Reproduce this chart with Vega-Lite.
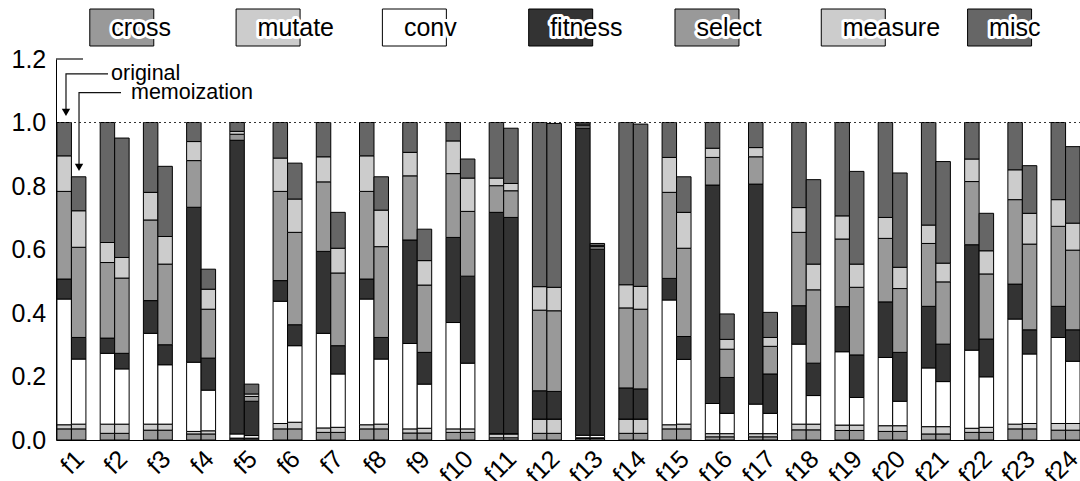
{
  "$schema": "https://vega.github.io/schema/vega-lite/v6.json",
  "padding": {"left": 10, "top": 8, "right": 0, "bottom": 0},
  "background": "white",
  "spacing": 0,
  "config": {
    "view": {"stroke": null},
    "axis": {"labelFont": "Liberation Sans", "labelColor": "#000", "domainColor": "#000", "grid": false, "ticks": false},
    "axisX": {"labelAngle": -45, "labelFontSize": 25}
  },
  "datasets": {
    "bars": [
      {"f":"f1","v":"original","cross":0.035,"mutate":0.013,"conv":0.396,"fitness":0.063,"select":0.276,"measure":0.112,"misc":0.105},
      {"f":"f1","v":"memoization","cross":0.035,"mutate":0.015,"conv":0.205,"fitness":0.068,"select":0.284,"measure":0.115,"misc":0.107},
      {"f":"f2","v":"original","cross":0.021,"mutate":0.029,"conv":0.223,"fitness":0.048,"select":0.238,"measure":0.063,"misc":0.378},
      {"f":"f2","v":"memoization","cross":0.021,"mutate":0.029,"conv":0.174,"fitness":0.049,"select":0.237,"measure":0.065,"misc":0.376},
      {"f":"f3","v":"original","cross":0.031,"mutate":0.019,"conv":0.286,"fitness":0.103,"select":0.254,"measure":0.087,"misc":0.220},
      {"f":"f3","v":"memoization","cross":0.031,"mutate":0.019,"conv":0.187,"fitness":0.063,"select":0.254,"measure":0.087,"misc":0.221},
      {"f":"f4","v":"original","cross":0.019,"mutate":0.008,"conv":0.218,"fitness":0.488,"select":0.147,"measure":0.060,"misc":0.060},
      {"f":"f4","v":"memoization","cross":0.019,"mutate":0.010,"conv":0.128,"fitness":0.101,"select":0.154,"measure":0.063,"misc":0.063},
      {"f":"f5","v":"original","cross":0.004,"mutate":0.002,"conv":0.013,"fitness":0.925,"select":0.019,"measure":0.009,"misc":0.028},
      {"f":"f5","v":"memoization","cross":0.004,"mutate":0.002,"conv":0.008,"fitness":0.108,"select":0.015,"measure":0.008,"misc":0.031},
      {"f":"f6","v":"original","cross":0.035,"mutate":0.017,"conv":0.385,"fitness":0.065,"select":0.281,"measure":0.105,"misc":0.112},
      {"f":"f6","v":"memoization","cross":0.035,"mutate":0.021,"conv":0.241,"fitness":0.066,"select":0.291,"measure":0.105,"misc":0.113},
      {"f":"f7","v":"original","cross":0.024,"mutate":0.014,"conv":0.298,"fitness":0.258,"select":0.219,"measure":0.079,"misc":0.108},
      {"f":"f7","v":"memoization","cross":0.024,"mutate":0.016,"conv":0.168,"fitness":0.089,"select":0.229,"measure":0.078,"misc":0.113},
      {"f":"f8","v":"original","cross":0.035,"mutate":0.013,"conv":0.396,"fitness":0.063,"select":0.276,"measure":0.112,"misc":0.105},
      {"f":"f8","v":"memoization","cross":0.035,"mutate":0.015,"conv":0.205,"fitness":0.068,"select":0.286,"measure":0.115,"misc":0.105},
      {"f":"f9","v":"original","cross":0.022,"mutate":0.013,"conv":0.269,"fitness":0.326,"select":0.202,"measure":0.074,"misc":0.094},
      {"f":"f9","v":"memoization","cross":0.022,"mutate":0.015,"conv":0.139,"fitness":0.100,"select":0.212,"measure":0.077,"misc":0.099},
      {"f":"f10","v":"original","cross":0.024,"mutate":0.011,"conv":0.335,"fitness":0.268,"select":0.201,"measure":0.103,"misc":0.058},
      {"f":"f10","v":"memoization","cross":0.024,"mutate":0.011,"conv":0.207,"fitness":0.274,"select":0.204,"measure":0.105,"misc":0.060},
      {"f":"f11","v":"original","cross":0.007,"mutate":0.012,"conv":0.001,"fitness":0.697,"select":0.084,"measure":0.024,"misc":0.175},
      {"f":"f11","v":"memoization","cross":0.007,"mutate":0.012,"conv":0.001,"fitness":0.681,"select":0.084,"measure":0.023,"misc":0.174},
      {"f":"f12","v":"original","cross":0.021,"mutate":0.045,"conv":0,"fitness":0.089,"select":0.254,"measure":0.074,"misc":0.517},
      {"f":"f12","v":"memoization","cross":0.021,"mutate":0.045,"conv":0,"fitness":0.087,"select":0.254,"measure":0.074,"misc":0.516},
      {"f":"f13","v":"original","cross":0.005,"mutate":0.002,"conv":0.008,"fitness":0.967,"select":0.008,"measure":0.005,"misc":0.005},
      {"f":"f13","v":"memoization","cross":0.005,"mutate":0.002,"conv":0.008,"fitness":0.586,"select":0.008,"measure":0.003,"misc":0.007},
      {"f":"f14","v":"original","cross":0.021,"mutate":0.045,"conv":0,"fitness":0.098,"select":0.252,"measure":0.073,"misc":0.511},
      {"f":"f14","v":"memoization","cross":0.021,"mutate":0.045,"conv":0,"fitness":0.095,"select":0.251,"measure":0.072,"misc":0.511},
      {"f":"f15","v":"original","cross":0.035,"mutate":0.013,"conv":0.393,"fitness":0.068,"select":0.271,"measure":0.110,"misc":0.110},
      {"f":"f15","v":"memoization","cross":0.035,"mutate":0.015,"conv":0.204,"fitness":0.072,"select":0.278,"measure":0.113,"misc":0.112},
      {"f":"f16","v":"original","cross":0.010,"mutate":0.010,"conv":0.095,"fitness":0.688,"select":0.087,"measure":0.029,"misc":0.081},
      {"f":"f16","v":"memoization","cross":0.010,"mutate":0.010,"conv":0.064,"fitness":0.113,"select":0.089,"measure":0.031,"misc":0.080},
      {"f":"f17","v":"original","cross":0.010,"mutate":0.010,"conv":0.093,"fitness":0.693,"select":0.086,"measure":0.029,"misc":0.079},
      {"f":"f17","v":"memoization","cross":0.010,"mutate":0.010,"conv":0.064,"fitness":0.124,"select":0.087,"measure":0.028,"misc":0.079},
      {"f":"f18","v":"original","cross":0.032,"mutate":0.018,"conv":0.252,"fitness":0.121,"select":0.231,"measure":0.078,"misc":0.268},
      {"f":"f18","v":"memoization","cross":0.032,"mutate":0.018,"conv":0.090,"fitness":0.102,"select":0.231,"measure":0.081,"misc":0.266},
      {"f":"f19","v":"original","cross":0.030,"mutate":0.017,"conv":0.231,"fitness":0.142,"select":0.213,"measure":0.073,"misc":0.294},
      {"f":"f19","v":"memoization","cross":0.030,"mutate":0.017,"conv":0.087,"fitness":0.134,"select":0.213,"measure":0.073,"misc":0.292},
      {"f":"f20","v":"original","cross":0.027,"mutate":0.018,"conv":0.215,"fitness":0.175,"select":0.200,"measure":0.066,"misc":0.299},
      {"f":"f20","v":"memoization","cross":0.027,"mutate":0.018,"conv":0.077,"fitness":0.154,"select":0.201,"measure":0.067,"misc":0.297},
      {"f":"f21","v":"original","cross":0.019,"mutate":0.023,"conv":0.185,"fitness":0.194,"select":0.198,"measure":0.058,"misc":0.323},
      {"f":"f21","v":"memoization","cross":0.019,"mutate":0.023,"conv":0.142,"fitness":0.118,"select":0.196,"measure":0.059,"misc":0.320},
      {"f":"f22","v":"original","cross":0.024,"mutate":0.013,"conv":0.246,"fitness":0.332,"select":0.199,"measure":0.071,"misc":0.115},
      {"f":"f22","v":"memoization","cross":0.024,"mutate":0.016,"conv":0.159,"fitness":0.119,"select":0.205,"measure":0.073,"misc":0.118},
      {"f":"f23","v":"original","cross":0.035,"mutate":0.015,"conv":0.331,"fitness":0.110,"select":0.266,"measure":0.094,"misc":0.149},
      {"f":"f23","v":"memoization","cross":0.035,"mutate":0.017,"conv":0.219,"fitness":0.076,"select":0.270,"measure":0.097,"misc":0.150},
      {"f":"f24","v":"original","cross":0.031,"mutate":0.021,"conv":0.271,"fitness":0.098,"select":0.252,"measure":0.084,"misc":0.243},
      {"f":"f24","v":"memoization","cross":0.031,"mutate":0.021,"conv":0.196,"fitness":0.099,"select":0.251,"measure":0.085,"misc":0.241}
    ],
    "lines": [
      {"g":"tick","i":0,"ax":0,"ay":1.2},
      {"g":"tick","i":1,"ax":0.632,"ay":1.2},
      {"g":"orig","i":0,"ax":1.218,"ay":1.153},
      {"g":"orig","i":1,"ax":0.234,"ay":1.153},
      {"g":"orig","i":2,"ax":0.234,"ay":1.032},
      {"g":"memo","i":0,"ax":1.522,"ay":1.094},
      {"g":"memo","i":1,"ax":0.539,"ay":1.094},
      {"g":"memo","i":2,"ax":0.539,"ay":0.859}
    ],
    "heads": [
      {"ax":0.234,"ay":1.032},
      {"ax":0.539,"ay":0.859}
    ],
    "notes": [
      {"t":"original","ax":1.288,"ay":1.153},
      {"t":"memoization","ax":1.756,"ay":1.094}
    ],
    "keys": [
      {"c":"cross"},{"c":"mutate"},{"c":"conv"},{"c":"fitness"},{"c":"select"},{"c":"measure"},{"c":"misc"}
    ]
  },
  "vconcat": [
    {
      "width": 1025,
      "height": 37,
      "data": {"name": "keys"},
      "encoding": {
        "x": {"field": "c", "type": "nominal", "sort": null,
              "scale": {"paddingInner": 0.5626, "paddingOuter": 0.2844, "align": 0.406},
              "axis": null}
      },
      "layer": [
        {
          "mark": {"type": "bar", "stroke": "#000", "strokeWidth": 1},
          "encoding": {
            "color": {"field": "c", "type": "nominal",
                      "scale": {"domain": ["cross","mutate","conv","fitness","select","measure","misc"],
                                "range": ["#999999","#cccccc","#ffffff","#333333","#999999","#cccccc","#666666"]},
                      "legend": null}
          }
        },
        {
          "mark": {"type": "text", "align": "left", "baseline": "middle", "dx": -10.5, "fontSize": 25, "font": "Liberation Sans",
                   "fill": "#fff", "stroke": "#fff", "strokeWidth": 6, "strokeJoin": "round"},
          "encoding": {"text": {"field": "c"}}
        },
        {
          "mark": {"type": "text", "align": "left", "baseline": "middle", "dx": -10.5, "fontSize": 25, "font": "Liberation Sans", "fill": "#000"},
          "encoding": {"text": {"field": "c"}}
        }
      ]
    },
    {
      "width": 1025,
      "height": 381,
      "layer": [
        {
          "data": {"name": "bars"},
          "transform": [
            {"fold": ["cross","mutate","conv","fitness","select","measure","misc"], "as": ["key","value"]},
            {"calculate": "indexof(['cross','mutate','conv','fitness','select','measure','misc'], datum.key)", "as": "k"}
          ],
          "mark": {"type": "bar", "stroke": "#000", "strokeWidth": 1},
          "encoding": {
            "x": {"field": "f", "type": "nominal",
                  "sort": ["f1","f2","f3","f4","f5","f6","f7","f8","f9","f10","f11","f12","f13","f14","f15","f16","f17","f18","f19","f20","f21","f22","f23","f24"],
                  "scale": {"paddingInner": 0.33, "paddingOuter": 0.022},
                  "axis": {"title": null, "labelAngle": -45, "labelAlign": "right", "labelBaseline": "top", "labelFontSize": 25, "labelPadding": 6, "ticks": false, "domainColor": "#000"}},
            "xOffset": {"field": "v", "type": "nominal", "sort": ["original","memoization"]},
            "y": {"field": "value", "type": "quantitative", "stack": "zero",
                  "scale": {"domain": [0, 1.2], "nice": false},
                  "axis": {"title": null, "values": [0,0.2,0.4,0.6,0.8,1,1.2], "format": ".1f", "labelFontSize": 25, "labelPadding": 10.25, "ticks": false, "domainColor": "#000"}},
            "color": {"field": "key", "type": "nominal",
                      "scale": {"domain": ["cross","mutate","conv","fitness","select","measure","misc"],
                                "range": ["#999999","#cccccc","#ffffff","#333333","#999999","#cccccc","#666666"]},
                      "legend": null},
            "order": {"field": "k", "type": "quantitative"}
          }
        },
        {
          "data": {"values": [{}]},
          "mark": {"type": "rule", "strokeDash": [2, 3], "color": "#333", "strokeWidth": 1},
          "encoding": {"y": {"datum": 1}}
        },
        {
          "encoding": {
            "x": {"field": "ax", "type": "quantitative", "scale": {"domain": [0, 24], "nice": false, "zero": false}, "axis": null},
            "y": {"field": "ay", "type": "quantitative", "title": null}
          },
          "layer": [
            {
              "data": {"name": "lines"},
              "mark": {"type": "line", "color": "#111", "strokeWidth": 1.2},
              "encoding": {"detail": {"field": "g"}, "order": {"field": "i", "type": "quantitative"}}
            },
            {
              "data": {"name": "heads"},
              "mark": {"type": "point", "shape": "triangle-down", "filled": true, "color": "#000", "size": 70, "opacity": 1}
            },
            {
              "data": {"name": "notes"},
              "mark": {"type": "text", "align": "left", "baseline": "middle", "fontSize": 21.5, "font": "Liberation Sans", "color": "#000"},
              "encoding": {"text": {"field": "t"}}
            }
          ]
        }
      ],
      "resolve": {"scale": {"x": "independent"}}
    }
  ]
}
